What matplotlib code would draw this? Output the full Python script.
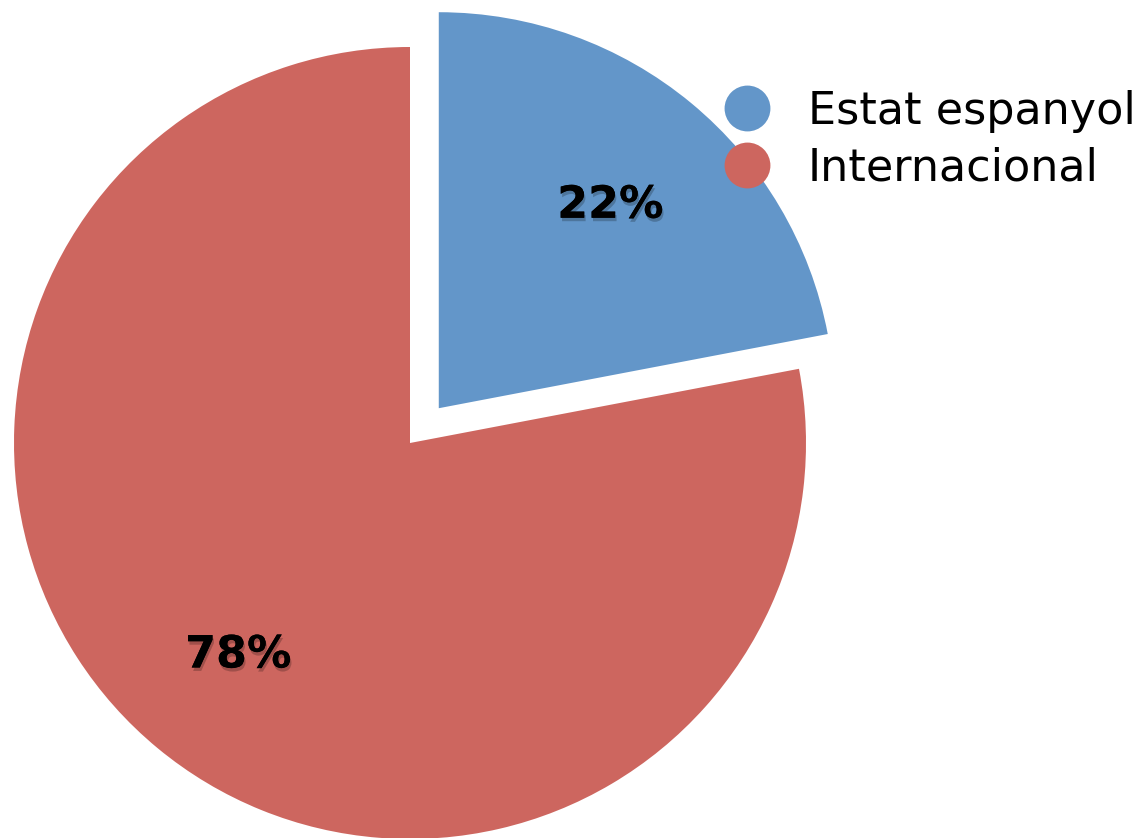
import matplotlib
matplotlib.use("Agg")
import matplotlib.pyplot as plt
import matplotlib.patheffects as pe
from matplotlib.lines import Line2D

labels = ["Estat espanyol", "Internacional"]
values = [22, 78]
colors = ["#6396c9", "#cd665f"]
explode = [0.114, 0.0]

W, H = 1142, 838
fig = plt.figure(figsize=(W / 100, H / 100), dpi=100)
ax = fig.add_axes([0, 0, 1, 1])

cx, cy, R = 410, 443, 396
wedges, texts, autotexts = ax.pie(
    values, colors=colors, explode=explode, startangle=90, counterclock=False,
    autopct="%d%%", pctdistance=0.68, radius=1.0,
    wedgeprops=dict(linewidth=0),
    textprops=dict(fontsize=32, fontweight="bold", color="black"),
)
for t in autotexts:
    t.set_va("center_baseline")
    t.set_path_effects([pe.withSimplePatchShadow(offset=(1, -2.5), shadow_rgbFace="black", alpha=0.22), pe.Normal()])

ax.set_xlim(-cx / R, (W - cx) / R)
ax.set_ylim(-(H - cy) / R, cy / R)
ax.set_aspect("equal")
ax.axis("off")

handles = [Line2D([], [], linestyle="none", marker="o", markersize=33,
                  markerfacecolor=c, markeredgewidth=0) for c in colors]
fig.legend(handles, labels, loc="upper left", bbox_to_anchor=(0.6307, 0.8926),
           bbox_transform=fig.transFigure, frameon=False, fontsize=32,
           handlelength=1.2, handletextpad=0.77, labelspacing=0.3, borderpad=0,
           borderaxespad=0)

fig.savefig("out.png", dpi=100)
